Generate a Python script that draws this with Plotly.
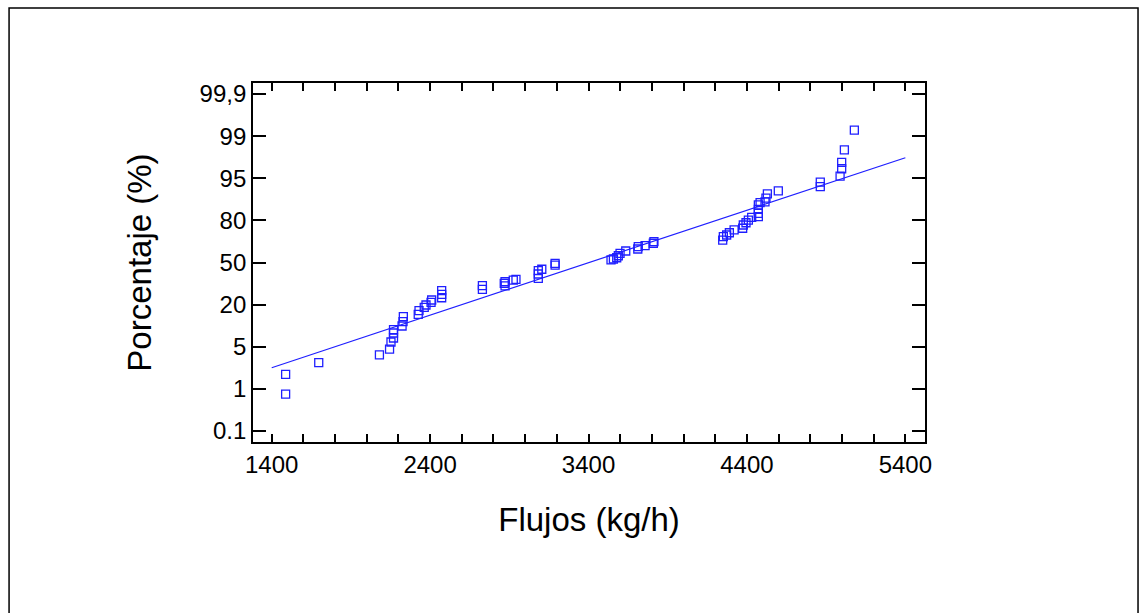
import numpy as np
import plotly.graph_objects as go

# Flujos (kg/h)
flujos = [1488, 1488, 1697, 2080, 2144, 2153, 2169, 2169, 2169, 2223, 2229, 2231,
          2325, 2330, 2363, 2374, 2406, 2410, 2473, 2473, 2473, 2730, 2730, 2868,
          2873, 2873, 2925, 2942, 3083, 3083, 3083, 3105, 3189, 3189, 3542, 3557,
          3578, 3588, 3599, 3635, 3711, 3714, 3757, 3809, 3813, 4247, 4251, 4272,
          4289, 4319, 4373, 4377, 4394, 4409, 4430, 4472, 4472, 4472, 4472, 4483,
          4514, 4520, 4529, 4598, 4863, 4863, 4988, 4998, 4998, 5015, 5078]
# Porcentaje (%)
porcentaje = [0.89, 2.38, 3.49, 4.22, 4.77, 6.69, 8.12, 9.89, 11.07, 12.39, 13.92, 15.7,
              16.55, 17.84, 19.05, 19.87, 21.65, 23.3, 24.9, 27.35, 29.9, 30.9, 33.6, 35.2,
              33.3, 36.3, 37.5, 38.0, 38.75, 41.8, 44.2, 45.2, 48.2, 49.4, 51.8, 52.5,
              53.4, 54.8, 56.5, 58.2, 59.6, 61.3, 62.0, 63.7, 64.8, 66.0, 68.4, 69.6,
              71.2, 73.2, 74.4, 76.7, 78.3, 80.1, 81.1, 81.3, 82.5, 83.9, 85.5, 86.3,
              86.6, 87.9, 89.4, 90.5, 92.0, 93.6, 95.2, 95.9, 96.5, 97.7, 99.13]

# fitted reference line (endpoints)
line_x = [1400, 5400]
line_pct = [3.01, 96.95]

# probability-axis labels
y_label_pct = [0.1, 1, 5, 20, 50, 80, 95, 99, 99.9]
y_label_text = ["0.1", "1", "5", "20", "50", "80", "95", "99", "99,9"]
x_tickvals = [1400, 2400, 3400, 4400, 5400]

y_pos = list(range(len(y_label_pct)))


def prob_axis(p):
    return np.interp(p, y_label_pct, y_pos)


BLUE = "#1f1fff"
FONT = "Liberation Sans, Arial, sans-serif"

fig = go.Figure()
fig.add_trace(go.Scatter(
    x=line_x, y=prob_axis(line_pct), mode="lines",
    line=dict(color=BLUE, width=1.2), showlegend=False, hoverinfo="skip"))
fig.add_trace(go.Scatter(
    x=flujos, y=prob_axis(porcentaje), mode="markers",
    marker=dict(symbol="square-open", size=8, color=BLUE, line=dict(width=1.3, color=BLUE)),
    showlegend=False))

fig.update_layout(
    width=1147, height=613,
    margin=dict(l=253, r=222, t=83, b=171),
    paper_bgcolor="white", plot_bgcolor="white",
    font=dict(family=FONT, color="black"),
    xaxis=dict(
        range=[1282, 5524], tickvals=x_tickvals, ticks="inside", ticklen=8,
        tickwidth=1.5, tickcolor="black", showline=True, linecolor="black",
        linewidth=1.8, mirror="ticks", showgrid=False, zeroline=False,
        tickfont=dict(size=24, family=FONT),
        minor=dict(dtick=200, tick0=1400, ticks="inside", ticklen=8, tickwidth=1.5,
                   tickcolor="black", showgrid=False),
        title=dict(text="Flujos (kg/h)", font=dict(size=33, family=FONT), standoff=31),
    ),
    yaxis=dict(
        range=[-0.261, 8.261], tickvals=y_pos, ticktext=y_label_text,
        ticks="inside", ticklen=13, tickwidth=1.5, tickcolor="black",
        showline=True, linecolor="black", linewidth=1.8, mirror="ticks",
        showgrid=False, zeroline=False,
        tickfont=dict(size=24, family=FONT),
        title=dict(text="Porcentaje (%)", font=dict(size=33, family=FONT), standoff=38),
    ),
    shapes=[dict(type="rect", xref="paper", yref="paper",
                 x0=-0.363, x1=1.317, y0=-0.52, y1=1.209,
                 line=dict(color="black", width=1.5))],
)

fig.write_html("out.html")
